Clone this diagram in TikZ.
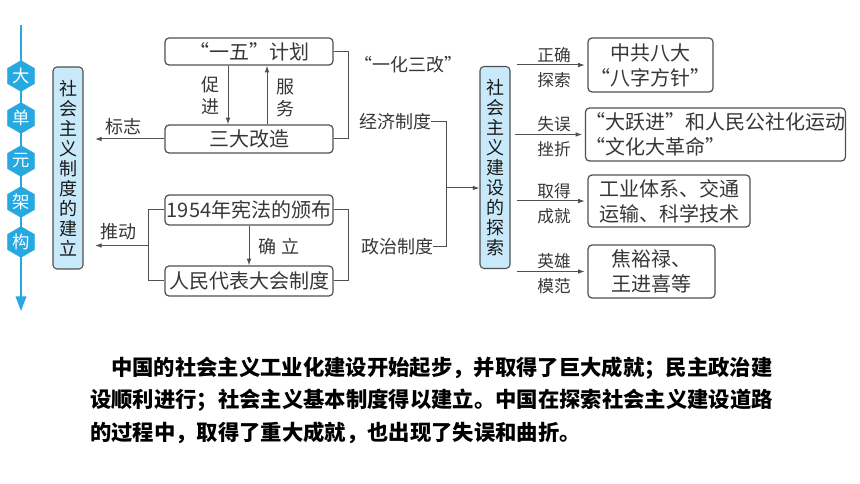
\documentclass[tikz,border=0pt]{standalone}
\usepackage{fontspec}
\setmainfont{Noto Sans CJK SC}
\usepackage{tikz}
\usetikzlibrary{arrows.meta,shapes.geometric}
\definecolor{hexblue}{RGB}{38,168,224}
\definecolor{panelblue}{RGB}{200,233,250}
\definecolor{framegray}{RGB}{80,80,80}
\definecolor{inkgray}{RGB}{55,55,55}

\begin{document}
\begin{tikzpicture}[x=0.75pt,y=0.75pt,yscale=-1,xscale=1,
    box/.style={draw=framegray, line width=0.9pt, rounded corners=3pt, text=inkgray, font=\fontsize{15}{18.75}\selectfont, inner sep=0pt},
    panel/.style={draw=framegray, fill=panelblue, line width=0.8pt, rounded corners=3pt, minimum width=22.5pt, minimum height=151.5pt, align=center, inner sep=0pt, text=black!90, font=\fontsize{13.5}{15}\selectfont},
    hexa/.style={regular polygon, regular polygon sides=6, shape border rotate=30, fill=hexblue, draw=hexblue, minimum size=23pt, inner sep=0pt, text=white, font=\fontsize{13}{13}\selectfont},
    tag/.style={text=inkgray, font=\fontsize{13.5}{16.5}\selectfont, inner sep=0pt, align=center},
    sidetag/.style={text=inkgray, font=\fontsize{12.5}{18.75}\selectfont, inner sep=0pt, align=center},
    summary/.style={text=black, font=\fontsize{16}{20}\selectfont\bfseries, inner sep=0pt, anchor=west},
    link/.style={draw=framegray, line width=0.75pt},
    arr/.style={link, -{Latex[length=5pt,width=3.5pt]}},
]
    \useasboundingbox [fill=white] (0,0) rectangle (860,484);

    %Shape: Strip with arrow
    \coordinate (striptop) at (21,25);
    \coordinate (stripend) at (21,311);
    \draw [draw=hexblue, line width=1.2pt, -{Triangle[length=11pt,width=8pt]}] (striptop) -- (stripend);
    %Shape: Hexagons
    \draw (21,76) node [hexa] (hexa1) {大};
    \draw (21,118) node [hexa] (hexa2) {单};
    \draw (21,161) node [hexa] (hexa3) {元};
    \draw (21,202) node [hexa] (hexa4) {架};
    \draw (21,242) node [hexa] (hexa5) {构};

    %Shape: Left panel
    \draw (68,168) node [panel] (system) {社\\会\\主\\义\\制\\度\\的\\建\\立};
    %Shape: Right panel
    \draw (495,167.5) node [panel] (explore) {社\\会\\主\\义\\建\\设\\的\\探\\索};

    % Economic boxes
    \draw (249,51.5) node [box, minimum width=126pt, minimum height=20.25pt] (plan) {“一五”计划};
    \draw (249,139) node [box, minimum width=126pt, minimum height=21pt] (reform) {三大改造};
    \draw [arr] ([xshift=-15.75pt]plan.south) -- ([xshift=-15.75pt]reform.north);
    \draw [arr] ([xshift=13.5pt]reform.north) -- ([xshift=13.5pt]plan.south);
    \draw [link] (plan.east) -- ++(15,0) |- (reform.east);
    \coordinate (signend) at (95,139);
    \draw [arr] (reform.west) -- (signend);
    % Text Node
    \draw (210,96) node [tag] (promote) {促\\进};
    % Text Node
    \draw (285,98) node [tag] (serve) {服\\务};
    % Text Node
    \draw (408,65) node [tag] (onethree) {“一化三改”};
    % Text Node
    \draw (123,127) node [tag] (sign) {标志};

    % Political boxes
    \draw (249,210) node [box, minimum width=126pt, minimum height=22.5pt] (charter) {1954年宪法的颁布};
    \draw (249,281) node [box, minimum width=126pt, minimum height=22.5pt] (congress) {人民代表大会制度};
    \draw [arr] (charter) -- (congress);
    \draw [link] (charter.west) -- ++(-16,0) |- (congress.west);
    \draw [link] (charter.east) -- ++(15,0) |- (congress.east);
    \coordinate (pushstart) at (149,245.5);
    \coordinate (pushend) at (95,245.5);
    \draw [arr] (pushstart) -- (pushend);
    % Text Node
    \draw (118,232) node [tag] (push) {推动};
    % Text Node
    \draw (279,247) node [tag] (establish) {确\hspace{0.3em}立};

    % Middle joint
    \draw (395,122) node [tag] (econ) {经济制度};
    \draw (397,247) node [tag] (polit) {政治制度};
    \draw [link] (econ.east) -- ++(15,0) |- (polit.east);
    \coordinate (join) at (447.4,188);
    \draw [arr] (join) -- (join -| explore.west);

    % Right boxes
    \draw (650.5,65) node [box, align=center, minimum width=93.75pt, minimum height=40.5pt] (eighth) {中共八大\\“八字方针”};
    \draw (715.5,134.5) node [box, align=left, minimum width=191.25pt, minimum height=39.75pt] (leap) {“大跃进”和人民公社化运动\\“文化大革命”};
    \draw (669,201) node [box, align=center, minimum width=121.5pt, minimum height=39pt] (industry) {工业体系、交通\\运输、科学技术};
    \draw (651.5,271.5) node [box, align=left, minimum width=95.25pt, minimum height=39.75pt] (models) {焦裕禄、\\王进喜等};
    \draw [arr, shorten >=2pt] ([xshift=-52.5pt]eighth.west) -- (eighth.west);
    \draw [arr, shorten >=2pt] ([xshift=-52.5pt]leap.west) -- (leap.west);
    \draw [arr, shorten >=2pt] ([xshift=-52.5pt]industry.west) -- (industry.west);
    \draw [arr, shorten >=2pt] ([xshift=-52.5pt]models.west) -- (models.west);
    % Text Node
    \draw (554,67.5) node [sidetag] (rightway) {正确\\探索};
    % Text Node
    \draw (554,137) node [sidetag] (setback) {失误\\挫折};
    % Text Node
    \draw (554,203.5) node [sidetag] (success) {取得\\成就};
    % Text Node
    \draw (554,274) node [sidetag] (heroes) {英雄\\模范};

    % Summary text
    \draw (111,368) node [summary] (line1) {中国的社会主义工业化建设开始起步，并取得了巨大成就；民主政治建};
    \draw (90,400) node [summary] (line2) {设顺利进行；社会主义基本制度得以建立。中国在探索社会主义建设道路};
    \draw (90,433) node [summary] (line3) {的过程中，取得了重大成就，也出现了失误和曲折。};
\end{tikzpicture}
\end{document}
